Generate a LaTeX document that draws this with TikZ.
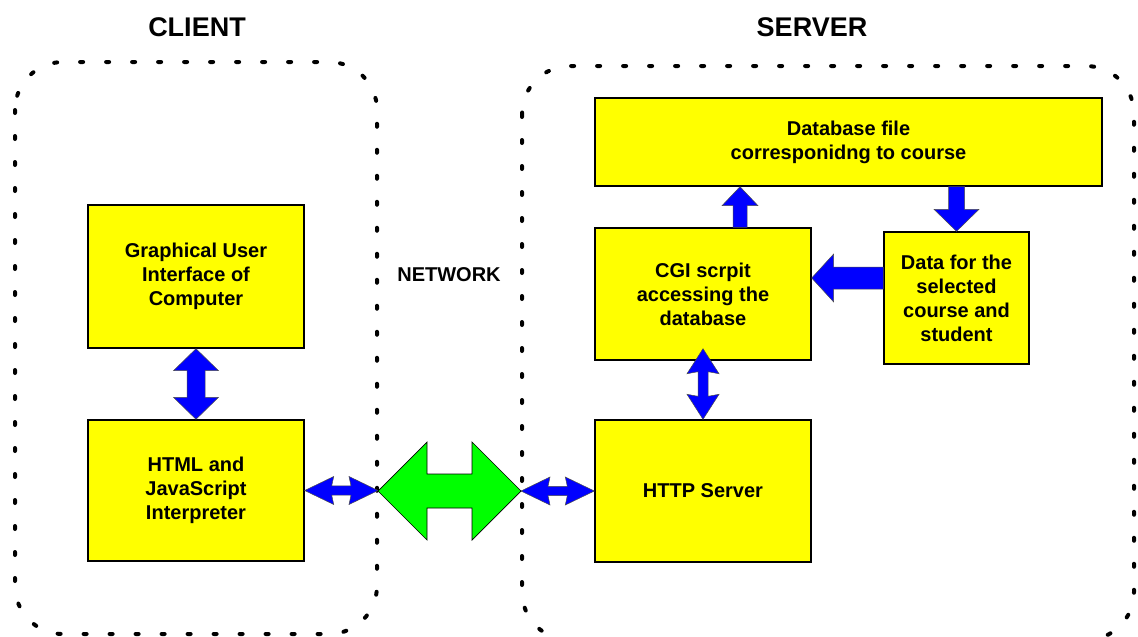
\documentclass[tikz,border=0pt]{standalone}
\usepackage{fontspec}
\setmainfont{Liberation Sans}
\usetikzlibrary{calc}
\definecolor{boxyellow}{HTML}{FFFF00}
\definecolor{arrblue}{HTML}{0000FF}
\definecolor{arrgreen}{HTML}{00FF00}
% horizontal double block arrow: style, left tip, right tip, shaft half, head half, head length, notch
\newcommand{\hdblarr}[7]{\path[#1] let \p1=#2, \p2=#3 in
 (\x1,\y1) -- (\x1+#6,\y1+#5) -- (\x1+#6-#7,\y1+#4) -- (\x2-#6+#7,\y1+#4) -- (\x2-#6,\y1+#5) -- (\x2,\y1)
 -- (\x2-#6,\y1-#5) -- (\x2-#6+#7,\y1-#4) -- (\x1+#6-#7,\y1-#4) -- (\x1+#6,\y1-#5) -- cycle;}
% vertical double block arrow: style, top tip, bottom tip, shaft half, head half, head length, notch
\newcommand{\vdblarr}[7]{\path[#1] let \p1=#2, \p2=#3 in
 (\x1,\y1) -- (\x1+#5,\y1-#6) -- (\x1+#4,\y1-#6+#7) -- (\x1+#4,\y2+#6-#7) -- (\x1+#5,\y2+#6) -- (\x1,\y2)
 -- (\x1-#5,\y2+#6) -- (\x1-#4,\y2+#6-#7) -- (\x1-#4,\y1-#6+#7) -- (\x1-#5,\y1-#6) -- cycle;}
% single up arrow: style, base (bottom), tip (top), shaft half, head half, head length
\newcommand{\uparr}[6]{\path[#1] let \p1=#2, \p2=#3 in
 (\x1-#4,\y1) -- (\x1-#4,\y2-#6) -- (\x1-#5,\y2-#6) -- (\x1,\y2) -- (\x1+#5,\y2-#6) -- (\x1+#4,\y2-#6) -- (\x1+#4,\y1) -- cycle;}
% single down arrow: style, base (top), tip (bottom), shaft half, head half, head length
\newcommand{\downarr}[6]{\path[#1] let \p1=#2, \p2=#3 in
 (\x1-#4,\y1) -- (\x1-#4,\y2+#6) -- (\x1-#5,\y2+#6) -- (\x1,\y2) -- (\x1+#5,\y2+#6) -- (\x1+#4,\y2+#6) -- (\x1+#4,\y1) -- cycle;}
% single left arrow: style, base (right), tip (left), shaft half, head half, head length
\newcommand{\leftarr}[6]{\path[#1] let \p1=#2, \p2=#3 in
 (\x1,\y1+#4) -- (\x2+#6,\y1+#4) -- (\x2+#6,\y1+#5) -- (\x2,\y1) -- (\x2+#6,\y1-#5) -- (\x2+#6,\y1-#4) -- (\x1,\y1-#4) -- cycle;}
\begin{document}
\begin{tikzpicture}[x=1pt,y=-1pt,
  box/.style={draw=black, line width=1.4pt, fill=boxyellow, align=center, inner sep=0pt,
    font=\fontsize{20}{24}\selectfont\bfseries},
  zone/.style={draw=black, line width=4pt, dash pattern=on 3pt off 23pt, line cap=round, rounded corners=48pt},
  title/.style={font=\fontsize{27}{30}\selectfont\bfseries},
  label/.style={font=\fontsize{20}{24}\selectfont\bfseries},
  bluearr/.style={fill=arrblue, draw=black!70, line width=0.5pt},
  greenarr/.style={fill=arrgreen, draw=black, line width=0.7pt}]
\useasboundingbox (0,0) rectangle (1138,637);
\fill[white] (0,0) rectangle (1138,637);
% zones
\draw[zone] (15,62) rectangle (377,634);
\draw[zone] (522,66) rectangle (1134,640);
% titles
\node[title] (client) at (197,27) {CLIENT};
\node[title] (server) at (812,27) {SERVER};
\node[label] (network) at (449,275) {NETWORK};
% boxes
\node[box, minimum width=216pt, minimum height=143pt] (gui) at (196,276.5) {Graphical User\\Interface of\\Computer};
\node[box, minimum width=216pt, minimum height=141pt] (html) at (196,490.5) {HTML and\\JavaScript\\Interpreter};
\node[box, minimum width=507pt, minimum height=88pt] (db) at (848.5,142) {Database file\\corresponidng to course};
\node[box, minimum width=216pt, minimum height=132pt] (cgi) at (703,294) {CGI scrpit\\accessing the\\database};
\node[box, minimum width=145pt, minimum height=132pt] (data) at (956.5,298) {Data for the\\selected\\course and\\student};
\node[box, minimum width=216pt, minimum height=142pt] (http) at (703,491) {HTTP Server};
% network endpoints
\coordinate (netL) at (378,491);
\coordinate (netR) at (521,491);
% arrows
\vdblarr{bluearr}{(gui.south)}{(html.north)}{9pt}{22.5pt}{22pt}{0pt}
\vdblarr{bluearr}{($(cgi.south)+(0,-12)$)}{(http.north)}{5pt}{16pt}{25pt}{2pt}
\hdblarr{bluearr}{(html.east)}{(netL)}{4.7pt}{14pt}{29pt}{2pt}
\hdblarr{bluearr}{(netR)}{(http.west)}{4.7pt}{14pt}{29pt}{2pt}
\hdblarr{greenarr}{(netL)}{(netR)}{17pt}{49pt}{49pt}{0pt}
\uparr{bluearr}{($(cgi.north)+(37,0)$)}{(db.south)}{7pt}{18pt}{19pt}
\downarr{bluearr}{(db.south -| data.north)}{(data.north)}{8pt}{22.5pt}{22pt}
\leftarr{bluearr}{($(data.west)+(0,-20)$)}{(cgi.east)}{11pt}{24pt}{22pt}
\end{tikzpicture}
\end{document}
